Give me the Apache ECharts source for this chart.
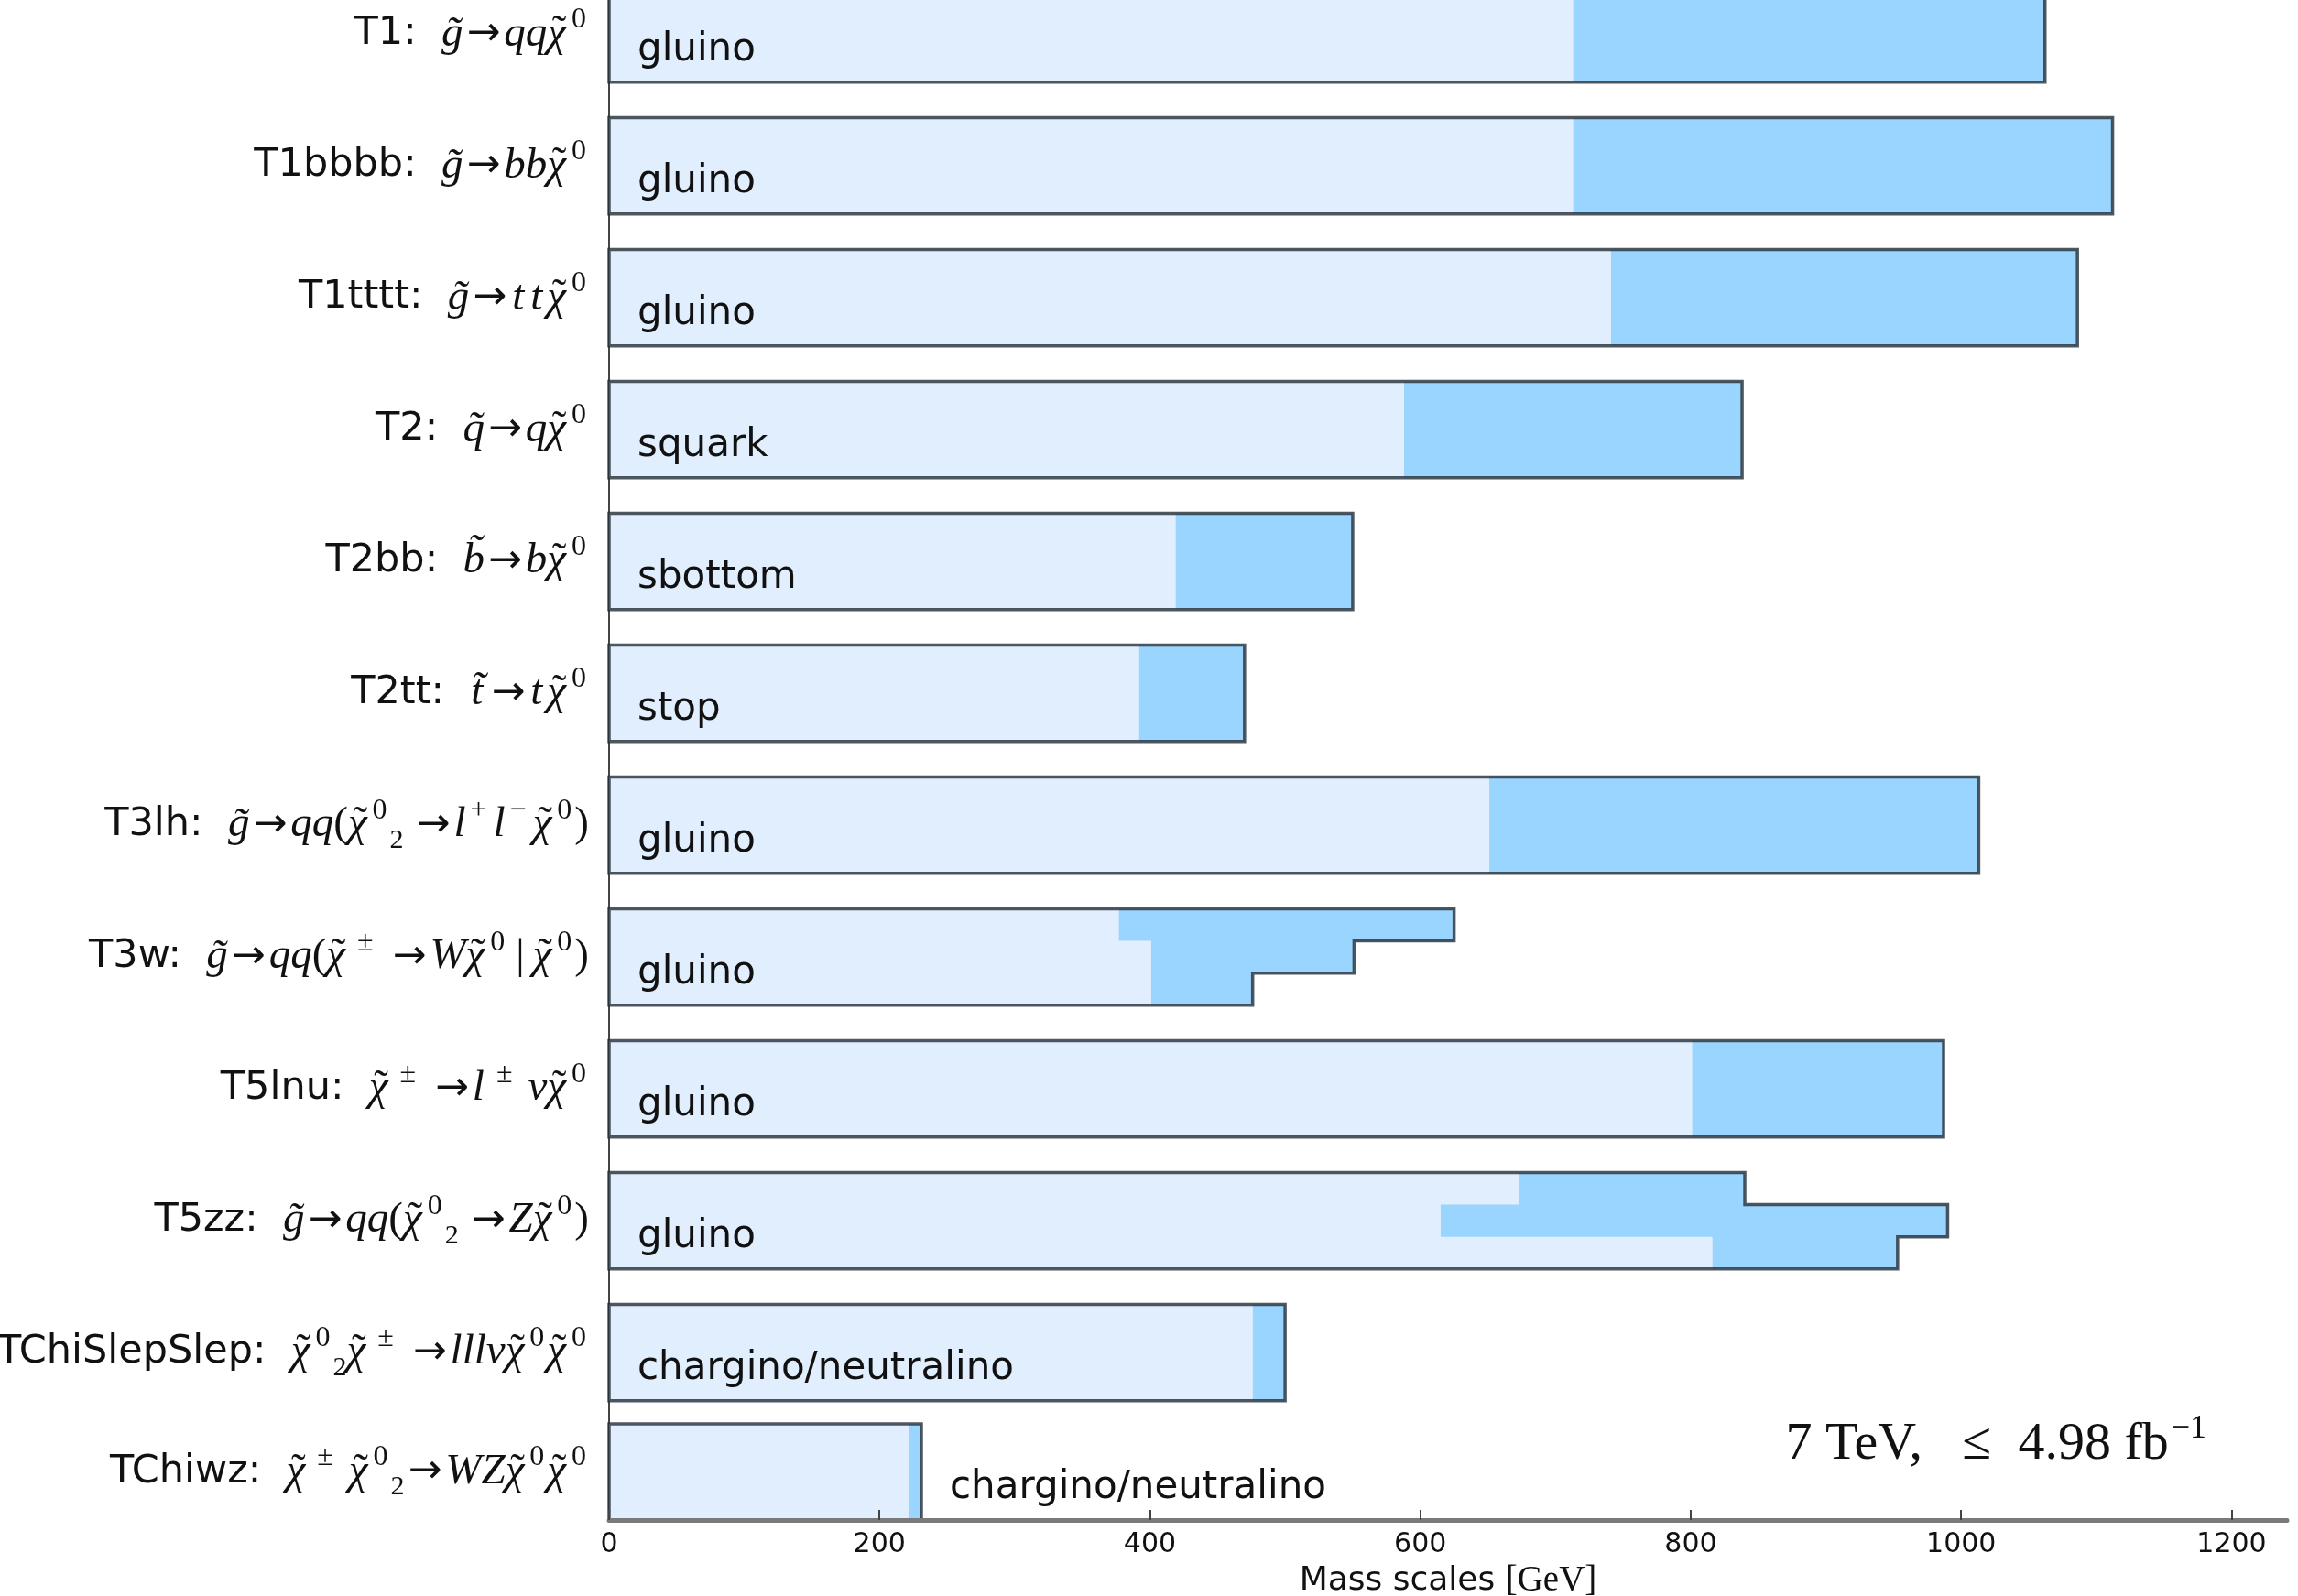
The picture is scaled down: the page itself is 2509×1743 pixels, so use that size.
<!DOCTYPE html>
<html>
<head>
<meta charset="utf-8">
<script src="https://cdn.jsdelivr.net/npm/echarts@6/dist/echarts.min.js"></script>
<style>
html,body{margin:0;padding:0;background:#fff;}
#chart{width:2509px;height:1743px;}
</style>
</head>
<body>
<div id="chart"></div>
<script>
// ---------------- data ----------------
const categories = ['T1', 'T1bbbb', 'T1tttt', 'T2', 'T2bb', 'T2tt', 'T3lh', 'T3w', 'T5lnu', 'T5zz', 'TChiSlepSlep', 'TChiwz'];
const decays = [
  'g\u0303→qqχ\u0303^0',
  'g\u0303→bbχ\u0303^0',
  'g\u0303→ttχ\u0303^0',
  'q\u0303→qχ\u0303^0',
  'b\u0303→bχ\u0303^0',
  't\u0303→tχ\u0303^0',
  'g\u0303→qq(χ\u0303^0_2 →l^+l^−χ\u0303^0)',
  'g\u0303→qq(χ\u0303^±→Wχ\u0303^0|χ\u0303^0)',
  'χ\u0303^±→l^±νχ\u0303^0',
  'g\u0303→qq(χ\u0303^0_2 →Zχ\u0303^0)',
  'χ\u0303^0_2χ\u0303^±→lllνχ\u0303^0χ\u0303^0',
  'χ\u0303^±χ\u0303^0_2→WZχ\u0303^0χ\u0303^0'
];
const particles = ['gluino', 'gluino', 'gluino', 'squark', 'sbottom', 'stop', 'gluino', 'gluino', 'gluino', 'gluino', 'chargino/neutralino', 'chargino/neutralino'];
// lower (light region end) and upper (dark region end) mass limits in GeV; stepped bars list sub-rows top to bottom
const lowerLimits = [[713], [713], [741], [588], [419], [392], [651], [377, 401, 401], [801], [673, 615, 816], [476], [222]];
const upperLimits = [[1062], [1112], [1086], [838], [550], [470], [1013], [625, 551, 476], [987], [840, 990, 953], [500], [231]];
// row centre on the vertical scale
const rowCenter = [11.27, 10.27, 9.27, 8.27, 7.27, 6.27, 5.27, 4.27, 3.27, 2.27, 1.27, 0.365];
const xTicks = [0, 200, 400, 600, 800, 1000, 1200];
const xMax = 1241;
const yMax = 11.528;
const barHalf = 0.365;
const annotation = '7 TeV,   ≤  4.98 fb';
const annotationSup = '−1';

// ---------------- helpers ----------------
const mathSize = 47;
const probe = document.createElement('canvas').getContext('2d');
probe.font = 'italic ' + mathSize + 'px "Liberation Serif"';
const CHI_W = probe.measureText('χ').width;
const TILDE_SHIFT = 3;

const UPRIGHT = /[0-9()+−±]/;
const SUP_OPS = /[±+−]/;
function mathToRich(s) {
  const segs = [];
  const push = (style, ch, noMerge) => {
    const last = segs[segs.length - 1];
    if (!noMerge && last && last.style === style && !last.noMerge) last.text += ch;
    else segs.push({style, text: ch, noMerge: !!noMerge});
  };
  for (let i = 0; i < s.length; i++) {
    let c = s[i];
    if (c === '^' || c === '_') {
      const ch = s[i + 1];
      i++;
      if (c === '^') {
        if (ch === '±') push('suppm', ch, true);
        else if (SUP_OPS.test(ch)) push('supop', ch, true);
        else push('sup', ch);
      } else push('sub', ch);
      continue;
    }
    if (c === ' ') { push('sp', ' '); continue; }
    if (c === '→') { push('ar', c); continue; }
    if (c === '|') { push('bar', c); continue; }
    if (c === 'χ' && s[i + 1] === '\u0303') {
      // tilde drawn centred over the chi glyph
      push('chs', ' ', true);
      push('chx', 'χ', true);
      push('tsp', ' ', true);
      push('til', '˜', true);
      push('che', ' ', true);
      i++;
      continue;
    }
    let ch = c;
    if (s[i + 1] === '\u0303') { ch += '\u0303'; i++; }
    push(UPRIGHT.test(c) ? 'mr' : (c === 't' ? 'mt' : 'mi'), ch, c === 't');
  }
  return segs.map(g => '{' + g.style + '|' + g.text + '}').join('');
}

const chart = echarts.init(document.getElementById('chart'));

const LABEL_FONT = 42;
const textProbe = document.createElement('canvas').getContext('2d');
textProbe.font = LABEL_FONT + 'px "DejaVu Sans"';

function renderItem(params, api) {
  const i = api.value(2);
  const yc = rowCenter[i];
  const lo = lowerLimits[i], up = upperLimits[i];
  const n = lo.length;
  const yTop = api.coord([0, yc + barHalf])[1];
  const yBot = api.coord([0, yc - barHalf])[1];
  const x0 = api.coord([0, yc])[0];
  const h = (yBot - yTop) / n;
  const children = [];
  const pts = [[x0, yTop]];
  for (let k = 0; k < n; k++) {
    const y1 = yTop + k * h;
    const xl = api.coord([lo[k], yc])[0];
    const xu = api.coord([up[k], yc])[0];
    const extra = k < n - 1 ? 0.6 : 0;
    children.push({type: 'rect', shape: {x: x0, y: y1, width: xl - x0, height: h + extra}, style: {fill: '#e1eefe'}, silent: true});
    children.push({type: 'rect', shape: {x: xl, y: y1, width: xu - xl, height: h + extra}, style: {fill: '#99d5fe'}, silent: true});
    pts.push([xu, y1]);
    pts.push([xu, y1 + h]);
  }
  pts.push([x0, yBot]);
  children.push({type: 'polygon', shape: {points: pts}, style: {fill: null, stroke: 'rgba(35,45,55,0.8)', lineWidth: 3.5}, silent: true});
  const lightW = api.coord([lo[n - 1], yc])[0] - x0;
  const tw = textProbe.measureText(particles[i]).width;
  let tx = x0 + 31;
  if (tw + 62 > lightW) {
    tx = Math.max(...up.map(v => api.coord([v, yc])[0])) + 31;
  }
  children.push({type: 'text', style: {text: particles[i], x: tx, y: yBot - 14, textAlign: 'left', textVerticalAlign: 'bottom', fontFamily: 'DejaVu Sans', fontSize: LABEL_FONT, fill: '#111'}, silent: true});
  return {type: 'group', children};
}

const LH = 64;
const richStyles = {
  t: {fontFamily: 'DejaVu Sans', fontSize: 43, color: '#111', lineHeight: LH},
  sp: {fontFamily: 'Liberation Serif', fontSize: 40, color: '#111', lineHeight: LH},
  ar: {fontFamily: 'DejaVu Sans', fontSize: 44, color: '#111', lineHeight: LH, padding: [0, 4, 0, 4]},
  bar: {fontFamily: 'Liberation Serif', fontSize: mathSize, color: '#111', lineHeight: LH, padding: [0, 9, 0, 9]},
  mi: {fontFamily: 'Liberation Serif', fontStyle: 'italic', fontSize: mathSize, color: '#111', lineHeight: LH},
  mt: {fontFamily: 'Liberation Serif', fontStyle: 'italic', fontSize: mathSize, color: '#111', lineHeight: LH, padding: [0, 5, 0, 2]},
  mr: {fontFamily: 'Liberation Serif', fontSize: mathSize, color: '#111', lineHeight: LH},
  chs: {fontFamily: 'Liberation Serif', fontSize: mathSize, lineHeight: LH, width: CHI_W / 2, align: 'center'},
  chx: {fontFamily: 'Liberation Serif', fontStyle: 'italic', fontSize: mathSize, color: '#111', lineHeight: LH, width: 0, align: 'center'},
  tsp: {fontFamily: 'Liberation Serif', fontSize: mathSize, lineHeight: LH, width: TILDE_SHIFT, align: 'center'},
  til: {fontFamily: 'Liberation Serif', fontSize: mathSize, color: '#111', lineHeight: LH, width: 0, align: 'center'},
  che: {fontFamily: 'Liberation Serif', fontSize: mathSize, lineHeight: LH, width: CHI_W / 2 - TILDE_SHIFT, align: 'center'},
  sup: {fontFamily: 'Liberation Serif', fontSize: 32, color: '#111', verticalAlign: 'top', lineHeight: 36, padding: [0, 3, 0, 6]},
  supop: {fontFamily: 'Liberation Serif', fontSize: 32, color: '#111', verticalAlign: 'top', lineHeight: 36, padding: [0, 7, 0, 5]},
  suppm: {fontFamily: 'Liberation Serif', fontSize: 32, color: '#111', verticalAlign: 'top', lineHeight: 36, padding: [0, 17, 0, 13]},
  sub: {fontFamily: 'Liberation Serif', fontSize: 30, color: '#111', verticalAlign: 'bottom', lineHeight: 34}
};

chart.setOption({
  animation: false,
  backgroundColor: '#fff',
  grid: {left: 665, right: 12, top: 0, bottom: 83, containLabel: false, outerBoundsMode: 'none'},
  xAxis: {
    type: 'value', min: 0, max: xMax, z: 10,
    name: '{a|Mass scales }{b|[GeV]}',
    nameLocation: 'middle', nameGap: 41,
    nameTextStyle: {rich: {
      a: {fontFamily: 'DejaVu Sans', fontSize: 36, color: '#111'},
      b: {fontFamily: 'Liberation Serif', fontSize: 39, color: '#111'}
    }},
    axisLine: {show: true, lineStyle: {color: '#7a7a7a', width: 5}},
    axisTick: {show: true, inside: true, length: 11, customValues: xTicks, lineStyle: {color: '#444', width: 2}},
    axisLabel: {customValues: xTicks, fontFamily: 'DejaVu Sans', fontSize: 30, color: '#111', margin: 12,
      formatter: v => String(v)},
    splitLine: {show: false}
  },
  yAxis: {
    type: 'value', min: 0, max: yMax,
    axisLine: {show: true, onZero: false, lineStyle: {color: '#444', width: 2}},
    axisTick: {show: false},
    splitLine: {show: false},
    axisLabel: {
      customValues: rowCenter,
      margin: 22,
      formatter: function (v) {
        const i = rowCenter.indexOf(v);
        if (i < 0) return '';
        return '{t|' + categories[i] + ':  }' + mathToRich(decays[i]);
      },
      rich: richStyles
    }
  },
  graphic: [{
    type: 'text', right: 100, top: 1543, z: 20,
    style: {
      text: '{a|' + annotation + '}{s|' + annotationSup + '}',
      rich: {
        a: {fontFamily: 'Liberation Serif', fontSize: 58, fill: '#111', lineHeight: 64, verticalAlign: 'bottom'},
        s: {fontFamily: 'Liberation Serif', fontSize: 36, fill: '#111', lineHeight: 64, verticalAlign: 'top', padding: [0, 0, 0, 3]}
      }
    }
  }],
  series: [{
    type: 'custom',
    renderItem: renderItem,
    encode: {x: 0, y: 1},
    data: categories.map((c, i) => [Math.max(...upperLimits[i]), rowCenter[i], i])
  }]
});
</script>
</body>
</html>
